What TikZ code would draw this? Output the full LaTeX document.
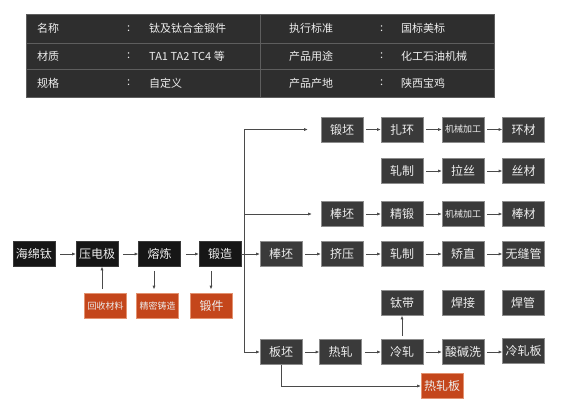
\documentclass[tikz,border=0pt]{standalone}
\usepackage{fontspec}
\setmainfont{Noto Sans CJK SC}
\usetikzlibrary{arrows.meta}
\definecolor{tblbg}{HTML}{2E2E2E}
\definecolor{tblline}{HTML}{5E5E5E}
\definecolor{txtc}{HTML}{EDEDED}
\definecolor{blkfill}{HTML}{161616}
\definecolor{blkdraw}{HTML}{3A3A3A}
\definecolor{gryfill}{HTML}{3A3A3A}
\definecolor{grydraw}{HTML}{8C8C8C}
\definecolor{orgfill}{HTML}{C4461B}
\definecolor{orgdraw}{HTML}{E39270}
\definecolor{linec}{HTML}{4A4A4A}
\begin{document}
\begin{tikzpicture}[x=1pt,y=-1pt,
  boxbase/.style={minimum width=42pt, minimum height=25pt, inner sep=0pt, text=txtc,
    font=\fontsize{12}{12}\selectfont, line width=0.6pt},
  blk/.style={boxbase, fill=blkfill, draw=blkdraw},
  gry/.style={boxbase, fill=gryfill, draw=grydraw},
  org/.style={boxbase, fill=orgfill, draw=orgdraw},
  small/.style={font=\fontsize{9}{9}\selectfont},
  arr/.style={draw=linec, line width=0.7pt, -{Latex[length=3.5pt,width=3.2pt]}, shorten <=3pt},
  ln/.style={draw=linec, line width=0.7pt},
  tt/.style={anchor=west, text=txtc, inner sep=0pt, font=\fontsize{11}{11}\selectfont}
]
\useasboundingbox[fill=white] (0,0) rectangle (563,413);
% table
\fill[tblbg] (26,14) rectangle (494,97);
\draw[tblline, line width=0.6pt] (26,14) rectangle (494,97);
\draw[tblline, line width=0.6pt] (26,43) -- (494,43) (26,69) -- (494,69) (260,14) -- (260,97);
\node[tt] (a1) at (37,28.5) {名称};
\node[tt] (a2) at (127,28.5) {:};
\node[tt] (a3) at (149,28.5) {钛及钛合金锻件};
\node[tt] (a4) at (289,28.5) {执行标准};
\node[tt] (a5) at (380,28.5) {:};
\node[tt] (a6) at (401,28.5) {国标美标};
\node[tt] (b1) at (37,56) {材质};
\node[tt] (b2) at (127,56) {:};
\node[tt] (b3) at (149,56) {TA1 TA2 TC4 等};
\node[tt] (b4) at (289,56) {产品用途};
\node[tt] (b5) at (380,56) {:};
\node[tt] (b6) at (401,56) {化工石油机械};
\node[tt] (c1) at (37,83) {规格};
\node[tt] (c2) at (127,83) {:};
\node[tt] (c3) at (149,83) {自定义};
\node[tt] (c4) at (289,83) {产品产地};
\node[tt] (c5) at (380,83) {:};
\node[tt] (c6) at (401,83) {陕西宝鸡};
% main row
\node[blk] (hmt) at (34,254) {海绵钛};
\node[blk] (ydj) at (97,254) {压电极};
\node[blk] (rl) at (159.5,254) {熔炼};
\node[blk] (dz) at (220,254) {锻造};
\node[org, small] (hs) at (105.5,306) {回收材料};
\node[org, small] (jm) at (157.5,306) {精密铸造};
\node[org] (dj) at (211.5,306) {锻件};
\node[gry] (bp1) at (281,254) {棒坯};
\node[gry] (jy) at (342,254) {挤压};
\node[gry] (zz1) at (402,254) {轧制};
\node[gry] (jz) at (463,254) {矫直};
\node[gry] (wfg) at (523.5,254) {无缝管};
% top row
\node[gry] (dp) at (342,129.5) {锻坯};
\node[gry] (zh) at (402,129.5) {扎环};
\node[gry, small] (jx1) at (463,129.5) {机械加工};
\node[gry] (hc) at (523.5,129.5) {环材};
% row 2
\node[gry] (zz2) at (402,171) {轧制};
\node[gry] (ls) at (463,171) {拉丝};
\node[gry] (sc) at (523.5,171) {丝材};
% row 3
\node[gry] (bp2) at (342,214) {棒坯};
\node[gry] (jd) at (402,214) {精锻};
\node[gry, small] (jx2) at (463,214) {机械加工};
\node[gry] (bc) at (523.5,214) {棒材};
% row 5
\node[gry] (td) at (402,303) {钛带};
\node[gry] (hj) at (463,303) {焊接};
\node[gry] (hg) at (523,303) {焊管};
% row 6
\node[gry] (bp3) at (281,352) {板坯};
\node[gry] (rz) at (340.5,352) {热轧};
\node[gry] (lz) at (402,352) {冷轧};
\node[gry] (sjx) at (463,352) {酸碱洗};
\node[gry] (lzb) at (523.5,351) {冷轧板};
\node[org] (rzb) at (442,386) {热轧板};
% trunk
\coordinate (ttop) at (244,129.5);
\coordinate (tmid) at (244,214);
\coordinate (tbot) at (244,352);
\draw[ln] (ttop) -- (tbot);
\draw[arr, shorten <=0pt, shorten >=13pt] (ttop) -- (dp.west);
\draw[arr, shorten <=0pt, shorten >=9pt] (tmid) -- (bp2.west);
\draw[arr, shorten <=0pt] (tbot) -- (bp3.west);
% main row arrows
\draw[arr, shorten <=5pt] (hmt) -- (ydj);
\draw[arr, shorten <=5pt] (ydj) -- (rl);
\draw[arr, shorten <=5pt] (rl) -- (dz);
\draw[arr, shorten <=0pt] (dz) -- (bp1);
\draw[arr, shorten <=4pt] ([xshift=-3.5pt]hs.north) -- ([xshift=5pt]ydj.south);
\draw[arr, shorten <=4pt, shorten >=4pt] ([xshift=-5.5pt]rl.south) -- ([xshift=-3.5pt]jm.north);
\draw[arr, shorten <=4pt, shorten >=4pt] ([xshift=-9pt]dz.south) -- ([xshift=-0.5pt]dj.north);
\draw[arr] (bp1) -- (jy);
\draw[arr] (jy) -- (zz1);
\draw[arr] (zz1) -- (jz);
\draw[arr] (jz) -- (wfg);
\draw[arr] (dp) -- (zh);
\draw[arr] (zh) -- (jx1);
\draw[arr] (jx1) -- (hc);
\draw[arr] (zz2) -- (ls);
\draw[arr] (ls) -- (sc);
\draw[arr] (bp2) -- (jd);
\draw[arr] (jd) -- (jx2);
\draw[arr] (jx2) -- (bc);
\draw[arr] (bp3) -- (rz);
\draw[arr] (rz) -- (lz);
\draw[arr] (lz) -- (sjx);
\draw[arr] (sjx.east) -- (sjx.east -| lzb.west);
\draw[arr] (lz) -- (td);
\draw[arr, shorten <=0pt] (bp3.south) |- (rzb.west);
\end{tikzpicture}
\end{document}
